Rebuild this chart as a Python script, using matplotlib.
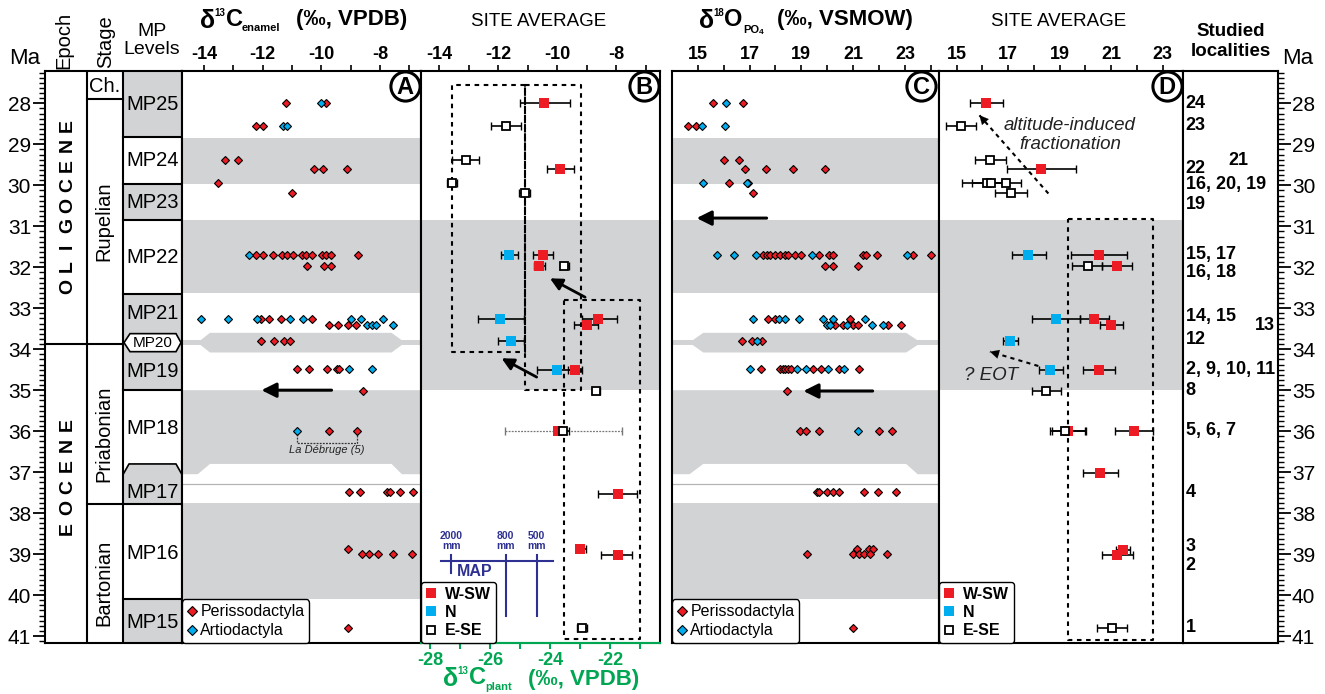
import matplotlib
matplotlib.use('Agg')
import matplotlib.pyplot as plt
import matplotlib.transforms as mtransforms
from matplotlib.patches import Polygon
from matplotlib.lines import Line2D
from matplotlib.ticker import MultipleLocator
import numpy as np

plt.rcParams['font.family'] = ['Liberation Sans', 'DejaVu Sans']

RED = '#ED1C24'
BLUE = '#00AEEF'
GRAY = '#D1D3D4'
GREEN = '#00A651'
NAVY = '#2E3192'

# ---------------- data ----------------
# panel A: d13C enamel per specimen, rows keyed by age (Ma)
a_peri = {
    28.0: [-11.22, -9.85],
    28.55: [-12.23, -11.98],
    29.38: [-13.27, -12.83],
    29.59: [-10.25, -9.93, -9.11],
    29.95: [-13.51],
    30.18: [-11.01],
    31.7: [-12.23, -12.0, -11.64, -11.35, -11.18, -10.95, -10.67, -10.52,
           -10.33, -9.99, -9.84, -9.67, -8.74],
    31.98: [-10.5, -9.9, -9.68],
    33.27: [-12.06, -11.8, -11.39, -10.31],
    33.41: [-9.73, -9.42, -9.08, -8.82],
    33.79: [-12.06, -11.61, -11.26, -11.07],
    34.49: [-10.84, -10.41, -9.82, -9.48, -9.39],
    35.02: [-8.57],
    36.0: [-9.73, -8.77],
    37.49: [-9.05, -8.68, -7.75, -7.66, -7.3, -6.87],
    38.88: [-9.1],
    38.99: [-8.62, -8.36, -8.08, -7.55, -6.9],
    40.8: [-9.08],
}
a_artio = {
    28.0: [-10.0],
    28.55: [-11.3, -11.16],
    31.7: [-12.45],
    33.27: [-14.11, -13.17, -12.2, -11.07, -10.61, -8.97, -8.63, -7.91],
    33.41: [-8.45, -8.28, -8.14, -7.57],
    34.49: [-9.06, -8.28],
    36.0: [-10.84],
}

# panel C: d18O phosphate per specimen
c_peri = {
    28.0: [15.6, 16.74],
    28.55: [14.61, 14.92],
    29.38: [16.02, 16.61],
    29.59: [16.83, 17.62, 18.69, 19.91],
    29.95: [16.22, 16.95],
    30.18: [17.12],
    31.7: [17.53, 17.66, 17.79, 17.98, 18.18, 18.37, 18.5, 18.76, 18.97,
           19.69, 20.08, 20.21, 21.37, 21.5, 21.93, 23.32, 23.99],
    31.98: [19.91, 20.21, 21.2],
    33.27: [17.73, 17.98, 20.88],
    33.41: [20.3, 20.6, 20.98, 21.2, 22.36, 22.83],
    33.79: [16.72, 17.08, 17.47],
    34.49: [17.43, 18.18, 18.28, 18.38, 18.48, 18.59, 19.46, 19.75, 20.47, 21.24],
    35.02: [18.46],
    36.0: [18.95, 19.18, 19.67, 22.01, 22.49],
    37.49: [19.59, 19.7, 19.98, 20.23, 20.47, 21.42, 21.97, 22.65],
    38.88: [21.16, 21.62, 21.78],
    38.99: [19.23, 20.98, 21.24, 21.42, 21.65, 22.29],
    40.8: [20.98],
}
c_artio = {
    28.0: [16.09],
    28.55: [15.18, 16.05],
    29.95: [15.19, 16.92],
    31.7: [15.76, 16.4, 17.24, 19.4, 23.06],
    33.27: [17.15, 18.15, 18.37, 18.92, 19.85, 20.23, 21.46],
    33.41: [19.98, 20.12, 20.75, 21.73, 22.14],
    33.79: [17.28],
    34.49: [17.02, 18.82, 19.18, 20.04, 20.66],
    36.0: [21.19],
}

# panel B: site averages of d13C (W = W-SW, N = N, E = E-SE)
b_age = [28.0, 28.55, 29.38, 29.59, 29.95, 30.18, 31.7, 31.7, 31.98, 31.98,
         33.27, 33.27, 33.41, 33.79, 34.5, 34.5, 35.03, 36.0, 36.0, 37.53,
         38.87, 39.02, 40.8]
b_mean = [-10.43, -11.73, -13.1, -9.89, -13.57, -11.1, -11.62, -10.46, -10.6, -9.76,
          -11.93, -8.6, -8.99, -11.56, -10.01, -9.39, -8.69, -9.95, -9.81, -7.95,
          -9.21, -7.95, -9.16]
b_lo = [-11.25, -12.24, -13.55, -10.33, -13.74, -11.28, -11.9, -10.82, -10.77, -9.9,
        -12.69, -9.16, -9.41, -11.99, -10.67, -9.62, -8.82, -11.76, -10.01, -8.6,
        -9.37, -8.51, -9.33]
b_hi = [-9.56, -11.22, -12.63, -9.42, -13.4, -10.92, -11.31, -10.12, -10.41, -9.58,
        -11.11, -7.98, -8.6, -11.11, -9.35, -9.16, -8.54, -7.81, -9.59, -7.28,
        -9.03, -7.45, -8.99]
b_group = ['W', 'E', 'E', 'W', 'E', 'E', 'N', 'W', 'W', 'E',
           'N', 'W', 'W', 'N', 'N', 'W', 'E', 'W', 'E', 'W',
           'W', 'W', 'E']
b_dotted = [False] * 17 + [True] + [False] * 5

# panel D: site averages of d18O
d_age = [28.0, 28.55, 29.38, 29.59, 29.95, 29.95, 29.95, 30.18, 31.7, 31.7,
         31.98, 31.98, 33.27, 33.27, 33.41, 33.79, 34.5, 34.5, 35.02, 36.0,
         36.0, 36.0, 37.02, 38.9, 39.02, 40.8]
d_mean = [16.14, 15.17, 16.29, 18.28, 16.17, 16.33, 16.92, 17.11, 17.78, 20.54,
          20.09, 21.21, 18.86, 20.33, 20.99, 17.07, 18.62, 20.54, 18.47, 19.31,
          19.21, 21.9, 20.58, 21.45, 21.24, 21.02]
d_lo = [15.52, 14.57, 15.69, 16.94, 15.2, 15.58, 16.4, 16.5, 17.14, 19.44,
        19.49, 20.63, 17.91, 19.79, 20.57, 16.79, 18.2, 19.89, 17.91, 18.7,
        18.62, 21.15, 19.92, 21.19, 20.63, 20.44]
d_hi = [16.79, 15.75, 16.9, 19.62, 16.75, 17.0, 17.49, 17.72, 18.46, 21.6,
        20.63, 21.8, 19.79, 20.92, 21.45, 17.36, 19.12, 21.15, 19.04, 20.0,
        20.01, 22.64, 21.28, 21.73, 21.86, 21.63]
d_group = ['W', 'E', 'E', 'W', 'E', 'E', 'E', 'E', 'N', 'W',
           'E', 'W', 'N', 'W', 'W', 'N', 'N', 'W', 'E', 'W',
           'E', 'W', 'W', 'W', 'W', 'E']

# MAP scale (plant d13C, permil) and labels
map_plant = [-27.3, -25.48, -24.45]
map_labels = ['2000\nmm', '800\nmm', '500\nmm']

# chronostratigraphy (Ma)
mp_names = ['MP25', 'MP24', 'MP23', 'MP22', 'MP21', 'MP20', 'MP19', 'MP18', 'MP17', 'MP16', 'MP15']
mp_label_age = [28.02, 29.4, 30.42, 31.75, 33.12, 33.84, 34.55, 35.93, 37.49, 38.98, 40.68]
mp_lines = [28.82, 29.98, 30.85, 32.65, 35.0, 37.78, 40.1]
stage_names = ['Ch.', 'Rupelian', 'Priabonian', 'Bartonian']
stage_label_age = [27.6, 30.87, 36.07, 39.7]
stage_lines = [27.9, 33.87, 37.78]
epoch_names = ['OLIGOCENE', 'EOCENE']
epoch_span = [(28.53, 32.46), (35.83, 38.37)]   # centre of first / last letter
epoch_line = 33.87

# studied localities
loc_age = [28.0, 28.55, 29.4, 29.59, 29.99, 30.48, 31.7, 32.13, 33.19, 33.41,
           33.77, 34.49, 35.01, 35.99, 37.5, 38.82, 39.29, 40.78]
loc_text = ['24', '23', '21', '22', '16, 20, 19', '19', '15, 17', '16, 18', '14, 15', '13',
            '12', '2, 9, 10, 11', '8', '5, 6, 7', '4', '3', '2', '1']
loc_col = [0, 0, 1, 0, 0, 0, 0, 0, 0, 2, 0, 0, 0, 0, 0, 0, 0, 0]

# ---------------- figure ----------------
W, H = 1325, 694
fig = plt.figure(figsize=(W / 100, H / 100), dpi=100)
TOP, BOT = 71, 643
YLIM = (41.17, 27.21)


def add_ax(x0, x1):
    return fig.add_axes([x0 / W, (H - BOT) / H, (x1 - x0) / W, (BOT - TOP) / H])


def fx(px):
    return px / W


def fy(py):
    return 1 - py / H


def piece(px, py, s, size, color='black'):
    fig.text(fx(px), fy(py), s, ha='left', va='center', fontsize=size,
             fontweight='bold', color=color)


def e2p(e):
    return (e + 14.305) / 1.017 - 28


def p2e(p):
    return (p + 28) * 1.017 - 14.305


def frame(ax):
    for s in ax.spines.values():
        s.set_linewidth(1.5)
    ax.set_ylim(*YLIM)
    ax.set_yticks([])


def top_ticks(ax, ticks, labelled):
    ax.xaxis.tick_top()
    ax.set_xticks(ticks)
    ax.set_xticklabels([str(t) if t in labelled else '' for t in ticks])
    ax.tick_params(axis='x', direction='out', length=4.5, width=1.2, labelsize=13, pad=1)
    for lb in ax.get_xticklabels():
        lb.set_fontweight('bold')


def bands_specimen(ax):
    for y0, y1 in [(28.84, 29.98), (30.85, 32.64), (37.76, 40.1)]:
        ax.axhspan(y0, y1, color=GRAY, lw=0, zorder=0)
    tr = mtransforms.blended_transform_factory(ax.transAxes, ax.transData)
    ax.add_patch(Polygon([(0.065, 33.84), (0.117, 33.6), (0.877, 33.6), (0.933, 33.84),
                          (0.877, 34.08), (0.117, 34.08)], transform=tr, color=GRAY, lw=0, zorder=0))
    ax.axhspan(33.78, 33.9, color=GRAY, lw=0, zorder=0)
    ax.add_patch(Polygon([(0, 35.0), (1, 35.0), (1, 37.05), (0.92, 37.05), (0.877, 36.8),
                          (0.117, 36.8), (0.066, 37.05), (0, 37.05)], transform=tr,
                         color=GRAY, lw=0, zorder=0))
    ax.axhline(37.28, color='#b5b5b5', lw=0.9, zorder=0.5)


def circle_letter(ax, letter):
    ax.plot(0.933, 0.974, 'o', ms=21, mfc='white', mec='black', mew=2.2,
            transform=ax.transAxes, zorder=6, clip_on=False)
    ax.text(0.933, 0.972, letter, transform=ax.transAxes, ha='center', va='center',
            fontsize=17, fontweight='bold', zorder=7)


def specimens(ax, peri, artio):
    for rows, col in [(peri, RED), (artio, BLUE)]:
        for age, vals in rows.items():
            ax.plot(vals, [age] * len(vals), 'D', ms=4.3, mfc=col, mec='black', mew=0.8,
                    ls='none', zorder=3)
    h = [Line2D([], [], marker='D', ms=5, mfc=RED, mec='black', mew=0.8, ls='none'),
         Line2D([], [], marker='D', ms=5, mfc=BLUE, mec='black', mew=0.8, ls='none')]
    lg = ax.legend(h, ['Perissodactyla', 'Artiodactyla'], loc='lower left', borderaxespad=0,
                   fontsize=11.5, handlelength=0.6, handletextpad=0.25, borderpad=0.3,
                   labelspacing=0.25, fancybox=True, framealpha=1, edgecolor='black')
    lg.get_frame().set_linewidth(1.0)
    lg.set_zorder(8)


STY = {'W': dict(mfc=RED, mec=RED, ms=7, mew=0),
       'N': dict(mfc=BLUE, mec=BLUE, ms=7, mew=0),
       'E': dict(mfc='white', mec='black', ms=6, mew=1.3)}


def averages(ax, age, mean, lo, hi, group, dotted=None):
    for g in ['W', 'N', 'E']:
        for i in range(len(age)):
            if group[i] != g:
                continue
            dot = dotted[i] if dotted else False
            eb = ax.errorbar(mean[i], age[i], xerr=[[mean[i] - lo[i]], [hi[i] - mean[i]]],
                             fmt='none', ecolor='#777777' if dot else 'black',
                             elinewidth=0.9 if dot else 1.2, capsize=3, capthick=1.0, zorder=3)
            if dot:
                eb[2][0].set_linestyle((0, (1.5, 1)))
            ax.plot(mean[i], age[i], 's', ls='none', zorder=4, **STY[g])
    h = [Line2D([], [], marker='s', ls='none', **STY[g]) for g in ['W', 'N', 'E']]
    lg = ax.legend(h, ['W-SW', 'N', 'E-SE'], loc='lower left', borderaxespad=0,
                   prop={'weight': 'bold', 'size': 11.5}, handlelength=0.6, handletextpad=0.6,
                   borderpad=0.3, labelspacing=0.2, fancybox=True, framealpha=1, edgecolor='black')
    lg.get_frame().set_linewidth(1.0)
    lg.set_zorder(8)


def arrow(ax, tail, head, dotted=False, lw=2.2, ms=22):
    if dotted:
        ax.plot([tail[0], head[0]], [tail[1], head[1]], color='black', lw=1.5,
                ls=(0, (2, 2)), zorder=5)
        f = 0.12
        start = (head[0] + f * (tail[0] - head[0]), head[1] + f * (tail[1] - head[1]))
        ax.annotate('', xy=head, xytext=start,
                    arrowprops=dict(arrowstyle='-|>', color='black', lw=0.1,
                                    mutation_scale=16, shrinkA=0, shrinkB=0), zorder=5)
    else:
        ax.annotate('', xy=head, xytext=tail,
                    arrowprops=dict(arrowstyle='-|>', color='black', lw=lw,
                                    mutation_scale=ms, shrinkA=0, shrinkB=0), zorder=5)


def ma_axis(ax, side):
    ax.set_yticks(range(28, 42))
    ax.yaxis.set_minor_locator(MultipleLocator(0.125))
    if side == 'left':
        ax.tick_params(axis='y', which='both', left=True, right=False, labelleft=True,
                       labelright=False, direction='out')
    else:
        ax.yaxis.tick_right()
        ax.tick_params(axis='y', which='both', left=False, right=True, labelleft=False,
                       labelright=True, direction='out')
    ax.tick_params(axis='y', which='major', length=9, width=1.3, labelsize=15, pad=1)
    ax.tick_params(axis='y', which='minor', length=4.5, width=1.0)
    ax.set_ylim(*YLIM)


# ----- stratigraphic column -----
axS = add_ax(45, 182)
axS.set_xlim(0, 137)
axS.set_ylim(*YLIM)
axS.set_xticks([])
for s in axS.spines.values():
    s.set_linewidth(1.5)
ma_axis(axS, 'left')
for y0, y1 in [(27.21, 28.82), (29.98, 30.85), (32.65, 35.0), (40.1, 41.17)]:
    axS.fill_between([78, 137], y0, y1, color=GRAY, lw=0, zorder=0)
axS.add_patch(Polygon([(78, 37.78), (78, 37.06), (84, 36.8), (131, 36.8), (137, 37.06), (137, 37.78)],
                      closed=True, fc=GRAY, ec='none', zorder=0))
axS.plot([78, 84, 131, 137], [37.06, 36.8, 36.8, 37.06], color='black', lw=1.2, zorder=2)
axS.add_patch(Polygon([(79, 33.84), (85, 33.62), (131, 33.62), (136, 33.84), (131, 34.06), (85, 34.06)],
                      closed=True, fc='white', ec='black', lw=1.2, zorder=2))
axS.axvline(42, color='black', lw=1.5)
axS.axvline(78, color='black', lw=1.5)
for y in mp_lines:
    axS.plot([78, 137], [y, y], color='black', lw=1.5)
axS.plot([42, 78], [stage_lines[0]] * 2, color='black', lw=1.5)
axS.plot([42, 78], [stage_lines[2]] * 2, color='black', lw=1.5)
axS.plot([0, 78], [epoch_line] * 2, color='black', lw=1.5)
for name, y in zip(mp_names, mp_label_age):
    axS.text(107.5, y, name, ha='center', va='center', fontsize=11 if name == 'MP20' else 14.5,
             zorder=3)
for name, y in zip(stage_names, stage_label_age):
    if name == 'Ch.':
        axS.text(60, y, name, ha='center', va='center', fontsize=14.5)
    else:
        axS.text(59, y, name, ha='center', va='center', rotation=90, fontsize=14.5)
for name, (y_top, y_bot) in zip(epoch_names, epoch_span):
    for ch, y in zip(name, np.linspace(y_bot, y_top, len(name))):
        axS.text(22.5, y, ch, ha='center', va='center', rotation=90, fontsize=14,
                 fontweight='bold')

# ----- panel A -----
axA = add_ax(182, 421)
frame(axA)
axA.set_xlim(-14.75, -6.6)
top_ticks(axA, list(range(-14, -6)), [-14, -12, -10, -8])
bands_specimen(axA)
specimens(axA, a_peri, a_artio)
circle_letter(axA, 'A')
arrow(axA, (-9.65, 35.0), (-12.04, 35.0))
axA.plot([-10.84, -10.84, -8.77, -8.77], [36.08, 36.3, 36.3, 36.08], color='#333333', lw=0.9,
         ls=(0, (1.5, 1)), zorder=2)
axA.text(-9.8, 36.47, 'La Débruge (5)', ha='center', va='center', fontsize=8, style='italic',
         color='#222222')

# ----- panel B -----
axB = add_ax(421, 660)
frame(axB)
axB.set_xlim(-14.61, -6.51)
top_ticks(axB, list(range(-14, -6)), [-14, -12, -10, -8])
axB.axhspan(30.85, 35.0, color=GRAY, lw=0, zorder=0)
averages(axB, b_age, b_mean, b_lo, b_hi, b_group, b_dotted)
circle_letter(axB, 'B')
dash = (0, (2.2, 2.2))
axB.plot([-11.1, -13.55, -13.55, -11.1, -11.1], [27.55, 27.55, 34.06, 34.06, 27.55],
         color='black', lw=1.5, ls=dash, zorder=2)
axB.plot([-11.1, -9.19, -9.19, -11.1, -11.1], [27.55, 27.55, 35.0, 35.0, 27.55],
         color='black', lw=1.5, ls=dash, zorder=2)
axB.plot([-9.76, -7.19, -7.19, -9.76, -9.76], [32.8, 32.8, 41.07, 41.07, 32.8],
         color='black', lw=1.5, ls=dash, zorder=2)
arrow(axB, (-9.05, 32.73), (-10.24, 32.27), lw=2.0, ms=18)
arrow(axB, (-10.69, 34.68), (-11.88, 34.22), lw=2.0, ms=18)
# MAP scale
axB.plot([-13.94, -10.13], [39.18, 39.18], color=NAVY, lw=1.5, zorder=2)
for p, lab in zip(map_plant, map_labels):
    e = p2e(p)
    y1 = 39.46 if lab.startswith('2000') else 40.52
    axB.plot([e, e], [39.02, y1], color=NAVY, lw=1.5, zorder=2)
    axB.text(e, 38.68, lab, ha='center', va='center', fontsize=7.5, fontweight='bold',
             color=NAVY, linespacing=1.0)
axB.text(-12.78, 39.43, 'MAP', ha='center', va='center', fontsize=11.5, fontweight='bold',
         color=NAVY)
axB.spines['bottom'].set_color(GREEN)
sec = axB.secondary_xaxis('bottom', functions=(e2p, p2e))
sec.set_xticks(list(range(-28, -20)))
sec.set_xticklabels([str(t) if t % 2 == 0 else '' for t in range(-28, -20)])
sec.tick_params(axis='x', direction='out', length=4.5, width=1.5, colors=GREEN, labelsize=13, pad=2)
sec.spines['bottom'].set_color(GREEN)
sec.spines['bottom'].set_linewidth(1.5)
for lb in sec.get_xticklabels():
    lb.set_fontweight('bold')

# ----- panel C -----
axC = add_ax(672, 939)
frame(axC)
axC.set_xlim(14.01, 24.31)
top_ticks(axC, list(range(15, 25)), [15, 17, 19, 21, 23])
bands_specimen(axC)
specimens(axC, c_peri, c_artio)
circle_letter(axC, 'C')
arrow(axC, (17.66, 30.8), (14.96, 30.8))
arrow(axC, (21.75, 35.02), (19.08, 35.02))

# ----- panel D -----
axD = add_ax(939, 1183)
frame(axD)
axD.set_xlim(14.31, 23.79)
top_ticks(axD, list(range(15, 24)), [15, 17, 19, 21, 23])
axD.axhspan(30.85, 35.0, color=GRAY, lw=0, zorder=0)
averages(axD, d_age, d_mean, d_lo, d_hi, d_group)
circle_letter(axD, 'D')
axD.plot([19.31, 22.64, 22.64, 19.31, 19.31], [30.82, 30.82, 41.1, 41.1, 30.82],
         color='black', lw=1.5, ls=dash, zorder=2)
arrow(axD, (18.56, 30.2), (15.88, 28.29), dotted=True)
arrow(axD, (18.17, 34.41), (16.29, 34.06), dotted=True)
axD.text(19.4, 28.77, 'altitude-induced\nfractionation', ha='center', va='center',
         fontsize=13.5, style='italic', linespacing=1.1, color='#222222')
axD.text(16.35, 34.63, '? EOT', ha='center', va='center', fontsize=13.5, style='italic',
         color='#222222')

# ----- localities -----
axL = add_ax(1183, 1278)
axL.set_xlim(0, 1)
axL.set_xticks([])
for s in axL.spines.values():
    s.set_linewidth(1.5)
ma_axis(axL, 'right')
col_x = [0.03, 0.48, 0.76]
for y, t, c in zip(loc_age, loc_text, loc_col):
    axL.text(col_x[c], y, t, ha='left', va='center', fontsize=13, fontweight='bold',
             clip_on=False)

# ----- headers -----
fig.text(fx(25), fy(59), 'Ma', ha='center', va='center', fontsize=16)
fig.text(fx(1298), fy(59), 'Ma', ha='center', va='center', fontsize=16)
fig.text(fx(64), fy(40), 'Epoch', ha='center', va='center', rotation=90, fontsize=14.5)
fig.text(fx(106), fy(42), 'Stage', ha='center', va='center', rotation=90, fontsize=14.5)
fig.text(fx(152), fy(32), 'MP', ha='center', va='center', fontsize=14)
fig.text(fx(152), fy(50), 'Levels', ha='center', va='center', fontsize=14)

piece(200, 21, 'δ', 18)
piece(214, 13, '13', 7)
piece(226, 20, 'C', 17)
piece(242, 28, 'enamel', 8)
fig.text(fx(352), fy(20), '(‰, VPDB)', ha='center', va='center', fontsize=16, fontweight='bold')

piece(699, 21, 'δ', 18)
piece(713, 13, '18', 7)
piece(724, 20, 'O', 17)
piece(743, 30, 'PO', 8)
piece(759, 33, '4', 6)
fig.text(fx(845), fy(20), '(‰, VSMOW)', ha='center', va='center', fontsize=16, fontweight='bold')

fig.text(fx(539), fy(21), 'SITE AVERAGE', ha='center', va='center', fontsize=13.5)
fig.text(fx(1059), fy(21), 'SITE AVERAGE', ha='center', va='center', fontsize=13.5)
fig.text(fx(1231), fy(31), 'Studied', ha='center', va='center', fontsize=13.5, fontweight='bold')
fig.text(fx(1231), fy(52), 'localities', ha='center', va='center', fontsize=13.5, fontweight='bold')

piece(443, 679, 'δ', 18, GREEN)
piece(457, 671, '13', 7, GREEN)
piece(469, 678, 'C', 17, GREEN)
piece(485, 687, 'plant', 8, GREEN)
fig.text(fx(584), fy(679), '(‰, VPDB)', ha='center', va='center', fontsize=16,
         fontweight='bold', color=GREEN)

fig.savefig('out.png', dpi=100)
